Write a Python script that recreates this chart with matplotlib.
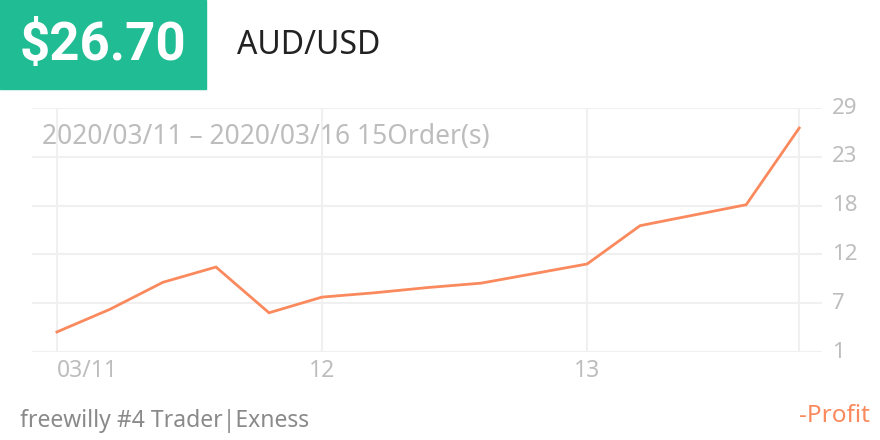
import matplotlib
matplotlib.use("Agg")
import matplotlib.pyplot as plt
import numpy as np

# cumulative profit after each of the 15 orders
profit = [3.3, 5.9, 9.0, 10.75, 5.5, 7.3, 7.8, 8.4, 8.9, 10.0, 11.1, 15.5, 16.7, 17.9, 26.7]
tick_pos = [0, 5, 10]
tick_labels = ["03/11", "12", "13"]
y_ticks = np.linspace(1, 29, 6)
y_labels = ["1", "7", "12", "18", "23", "29"]

total = "$26.70"
symbol = "AUD/USD"
period = "2020/03/11 – 2020/03/16 15Order(s)"
footer = "freewilly #4 Trader|Exness"

green = "#20bd94"
orange = "#fa8a5e"
grid_c = "#f0f0f0"
light = "#bdbdbd"

plt.rcParams['font.family'] = ['Noto Sans', 'DejaVu Sans']

fig = plt.figure(figsize=(8.8, 4.4), dpi=100)
fig.patch.set_facecolor("white")

ax = fig.add_axes([32 / 880, 1 - 352 / 440, 790 / 880, 244 / 440])
x = np.arange(len(profit))
ax.plot(x, profit, color=orange, lw=2, solid_joinstyle="miter", zorder=3)
ax.set_xlim(-0.47, 14.43)
ax.set_ylim(1, 29)

for yv in y_ticks:
    ax.axhline(yv, color=grid_c, lw=1.5, zorder=1)
for xv in tick_pos + [len(profit) - 1]:
    ax.axvline(xv, color=grid_c, lw=1.5, zorder=1)

for s in ax.spines.values():
    s.set_visible(False)
ax.set_xticks([])
ax.set_yticks([])

for xv, lab in zip(tick_pos, tick_labels):
    ha = "left" if xv == 0 else "center"
    ax.text(xv, 1 - 19 / 8.714, lab, ha=ha, va="center", fontsize=16.5, color=light)

for yv, lab in zip(y_ticks, y_labels):
    fig.text(832 / 880, 1 - (352 - (yv - 1) * 8.714) / 440, lab, ha="left", va="center",
             fontsize=16, color=light)

# header badge
fig.patches.append(plt.Rectangle((0, 1 - 89 / 440), 206 / 880, 89 / 440,
                                 transform=fig.transFigure, color=green, zorder=0))
fig.text(103 / 880, 1 - 46 / 440, total, ha="center", va="center", fontsize=38,
         fontweight="bold", color="white", family=["Roboto", "DejaVu Sans"])
fig.text(237 / 880, 1 - 46 / 440, symbol, ha="left", va="center", fontsize=23,
         color="#222222")
fig.text(42 / 880, 1 - 137 / 440, period, ha="left", va="center", fontsize=19,
         color=light)

fig.text(20 / 880, 1 - 421 / 440, footer, ha="left", va="center", fontsize=16.5,
         color="#8a8a8a")
fig.text(870 / 880, 1 - 416 / 440, "-Profit", ha="right", va="center", fontsize=17.5,
         color=orange)

fig.savefig("out.png", dpi=100, facecolor="white")
